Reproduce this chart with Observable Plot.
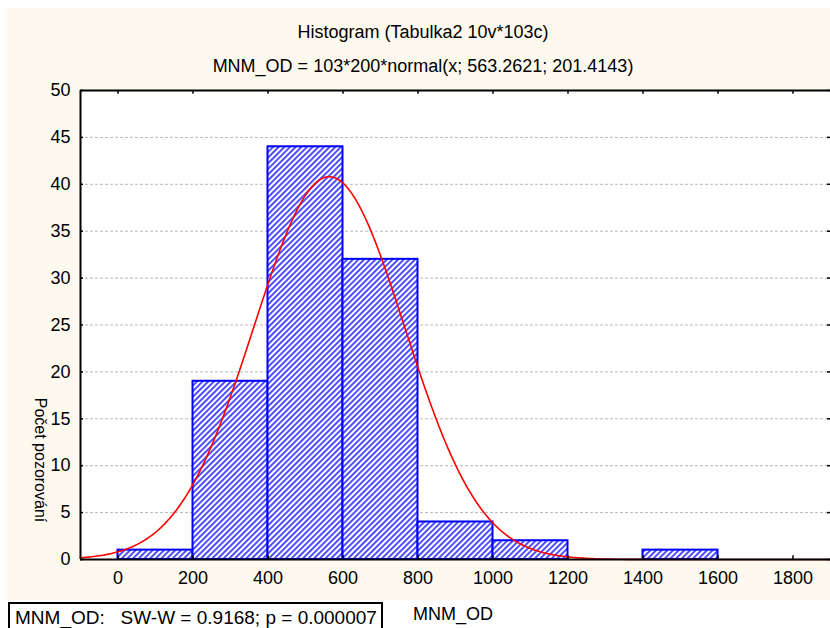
<!DOCTYPE html>
<html>
<head>
<meta charset="utf-8">
<script src="https://cdn.jsdelivr.net/npm/d3@7"></script>
<script src="https://cdn.jsdelivr.net/npm/@observablehq/plot@0.6"></script>
<style>
  html, body { margin: 0; padding: 0; background: #ffffff; }
  #wrap { position: relative; width: 830px; height: 628px; overflow: hidden; font-family: "Liberation Sans", Arial, sans-serif; color: #000; }
  #panel { position: absolute; left: 6px; top: 8px; width: 824px; height: 592px; background: #fdf9ee; }
  #chart { position: absolute; left: 0; top: 0; }
  .t { position: absolute; white-space: pre; font-size: 18px; line-height: 1; }
</style>
</head>
<body>
<div id="wrap">
  <div id="panel"></div>
  <div id="chart"></div>
  <div class="t" id="title1" style="left:423px; top:32px; transform:translate(-50%,-50%);"></div>
  <div class="t" id="title2" style="left:423px; top:66px; transform:translate(-50%,-50%);"></div>
  <div class="t" id="ylab" style="left:40px; top:460px; font-size:16px; transform:translate(-50%,-50%) rotate(90deg);"></div>
  <div class="t" id="xlab" style="left:413px; top:614px; transform:translate(0,-50%);"></div>
  <div id="box" style="position:absolute; left:8px; top:602px; width:371px; height:30px; border:2px solid #000; background:#fff;">
    <div class="t" id="boxtext" style="left:5px; top:13px; font-size:19px; transform:translate(0,-50%);"></div>
  </div>
</div>
<script>
// ---- data ----
const binStart = [0, 200, 400, 600, 800, 1000, 1200, 1400, 1600];
const binEnd   = [200, 400, 600, 800, 1000, 1200, 1400, 1600, 1800];
const counts   = [1, 19, 44, 32, 4, 2, 0, 1, 0];
const xTicks = [0, 200, 400, 600, 800, 1000, 1200, 1400, 1600, 1800];
const yTicks = [0, 5, 10, 15, 20, 25, 30, 35, 40, 45, 50];
const gridY  = [5, 10, 15, 20, 25, 30, 35, 40, 45];
// fitted normal curve parameters as printed in the subtitle
const fitN = [103];
const fitBinWidth = [200];
const fitMean = [563.2621];
const fitSd = [201.4143];

const titleText = "Histogram (Tabulka2 10v*103c)";
const subtitleText = "MNM_OD = 103*200*normal(x; 563.2621; 201.4143)";
const yLabelText = "Počet pozorování";
const xLabelText = "MNM_OD";
const boxText = "MNM_OD:   SW-W = 0.9168; p = 0.000007";

document.getElementById("title1").textContent = titleText;
document.getElementById("title2").textContent = subtitleText;
document.getElementById("ylab").textContent = yLabelText;
document.getElementById("xlab").textContent = xLabelText;
document.getElementById("boxtext").textContent = boxText;

const bins = binStart.map((s, i) => ({x1: s, x2: binEnd[i], y: counts[i]})).filter(d => d.y > 0);

const m = fitMean[0], s = fitSd[0], k = fitN[0] * fitBinWidth[0];
const curve = d3.range(-100, 1900.1, 5).map(x => ({
  x, y: k * Math.exp(-0.5 * ((x - m) / s) ** 2) / (s * Math.sqrt(2 * Math.PI))
}));

const svg = Plot.plot({
  width: 830,
  height: 628,
  marginLeft: 80,
  marginRight: 0,
  marginTop: 90,
  marginBottom: 69,
  style: {background: "transparent", fontFamily: "'Liberation Sans', Arial, sans-serif", fontSize: "18px", color: "#000"},
  x: {domain: [-100, 1900], axis: null},
  y: {domain: [0, 50], axis: null},
  marks: [
    Plot.rect([0], {x1: -100, x2: 1900, y1: 0, y2: 50, fill: "#ffffff"}),
    Plot.ruleY(gridY, {stroke: "#b8b8b8", strokeWidth: 1, strokeDasharray: "3,2"}),
    Plot.rectY(bins, {x1: "x1", x2: "x2", y: "y", fill: "url(#hatch)", stroke: "#0000ff", strokeWidth: 2}),
    Plot.line(curve, {x: "x", y: "y", stroke: "#ff0000", strokeWidth: 1.6}),
    Plot.ruleY([0, 50], {stroke: "#000", strokeWidth: 2}),
    Plot.ruleX([-100], {y1: 0, y2: 50, stroke: "#000", strokeWidth: 2}),
    Plot.ruleX(xTicks, {y1: 50, y2: 49.6, stroke: "#000", strokeWidth: 1.5}),
    Plot.ruleX(xTicks, {y1: 0, y2: 0.4, stroke: "#000", strokeWidth: 1.5}),
    Plot.ruleY(yTicks, {x1: -100, x2: -92, stroke: "#000", strokeWidth: 1.5}),
    Plot.ruleY(yTicks, {x1: 1892, x2: 1900, stroke: "#000", strokeWidth: 1.5}),
    Plot.axisY({ticks: yTicks, tickSize: 0, tickPadding: 10, label: null, fontSize: 18, tickFormat: d => String(d)}),
    Plot.axisX({ticks: xTicks, tickSize: 0, tickPadding: 12, label: null, fontSize: 18, tickFormat: d => String(d)})
  ]
});

svg.insertAdjacentHTML("afterbegin",
  '<defs><pattern id="hatch" width="4" height="4" patternUnits="userSpaceOnUse" patternTransform="rotate(45)">' +
  '<rect width="4" height="4" fill="#ffffff"/>' +
  '<line x1="1" y1="0" x2="1" y2="4" stroke="#3b3bff" stroke-width="1.8"/></pattern></defs>');

document.getElementById("chart").appendChild(svg);
</script>
</body>
</html>
